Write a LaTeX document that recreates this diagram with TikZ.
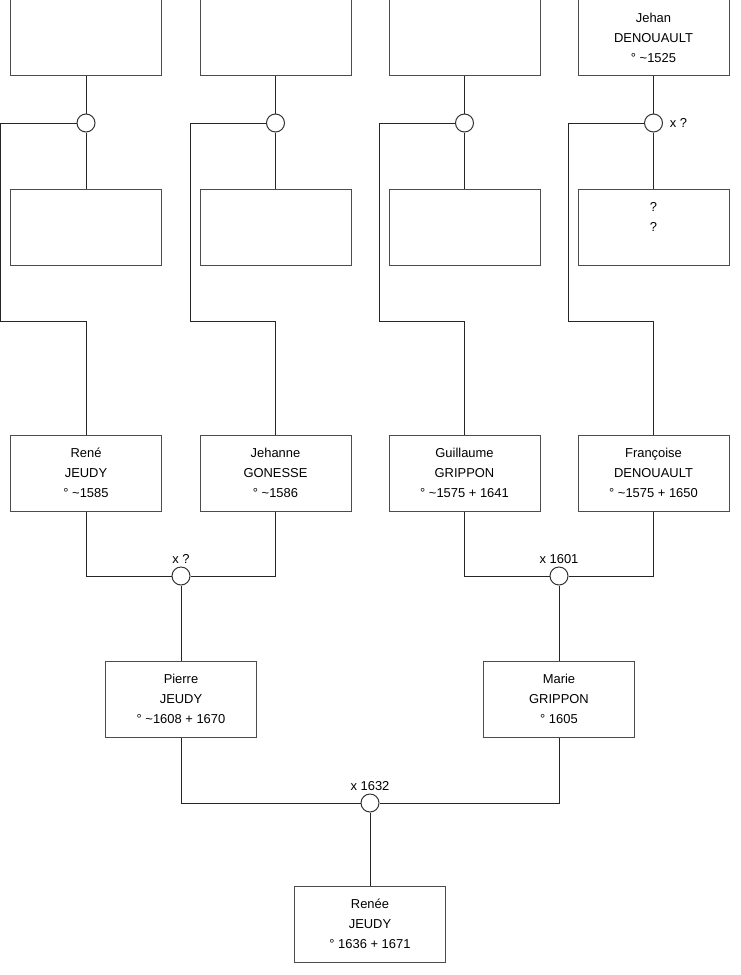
\documentclass[tikz,border=0pt]{standalone}
\usepackage{fontspec}
\setmainfont{Liberation Sans}
\usetikzlibrary{positioning}
\tikzset{
  person/.style={draw=black!70,line width=0.75pt,minimum width=113.25pt,minimum height=57pt,
        align=center,anchor=center,font=\fontsize{9.7}{15}\selectfont},
  union/.style={draw=black!80,fill=white,circle,line width=0.75pt,minimum size=13.5pt,inner sep=0pt},
  link/.style={line width=0.75pt,black!85},
  lbl/.style={font=\fontsize{9.7}{11}\selectfont,inner sep=1pt}
}
\begin{document}
\begin{tikzpicture}[x=0.75pt,y=-0.75pt]
  \useasboundingbox (0,0) rectangle (740,975);
  %% Grand-parents (top row)
  \node[person] (gp1) at (86,37.5) {};
  \node[person] (gp2) at (275.5,37.5) {};
  \node[person] (gp3) at (464.5,37.5) {};
  \node[person] (gp4) at (653.5,37.5) {Jehan\\DENOUAULT\\° \textasciitilde 1525};
  %% Grand-parents (second row)
  \node[person] (gm1) at (86,227) {};
  \node[person] (gm2) at (275.5,227) {};
  \node[person] (gm3) at (464.5,227) {};
  \node[person] (gm4) at (653.5,227) {?\\?\\\mbox{}};
  %% Unions
  \node[union] (u1) at (86,123) {};
  \node[union] (u2) at (275.5,123) {};
  \node[union] (u3) at (464.5,123) {};
  \node[union] (u4) at (653.5,123) {};
  \node[lbl,right=4pt of u4] {x ?};
  %% Parents
  \node[person] (rene) at (86,473) {René\\JEUDY\\° \textasciitilde 1585};
  \node[person] (jehanne) at (275.5,473) {Jehanne\\GONESSE\\° \textasciitilde 1586};
  \node[person] (guillaume) at (464.5,473) {Guillaume\\GRIPPON\\° \textasciitilde 1575 + 1641};
  \node[person] (francoise) at (653.5,473) {Françoise\\DENOUAULT\\° \textasciitilde 1575 + 1650};
  \node[union] (m1) at (181,576) {};
  \node[union] (m2) at (559,576) {};
  \node[lbl,above=1pt of m1] {x ?};
  \node[lbl,above=1pt of m2] {x 1601};
  %% Children
  \node[person] (pierre) at (181,699) {Pierre\\JEUDY\\° \textasciitilde 1608 + 1670};
  \node[person] (marie) at (559,699) {Marie\\GRIPPON\\° 1605};
  \node[union] (m3) at (370,803) {};
  \node[lbl,above=1pt of m3] {x 1632};
  \node[person] (renee) at (370,924) {Renée\\JEUDY\\° 1636 + 1671};
  %% Connectors
  \foreach \i in {1,...,4}{
    \draw[link] (gp\i) -- (u\i);
    \draw[link] (u\i) -- (gm\i);
  }
  \draw[link] (u1.west) -| ++(-76,198) -| (rene.north);
  \draw[link] (u2.west) -| ++(-76,198) -| (jehanne.north);
  \draw[link] (u3.west) -| ++(-76,198) -| (guillaume.north);
  \draw[link] (u4.west) -| ++(-76,198) -| (francoise.north);
  \draw[link] (rene.south) |- (m1.west);
  \draw[link] (jehanne.south) |- (m1.east);
  \draw[link] (guillaume.south) |- (m2.west);
  \draw[link] (francoise.south) |- (m2.east);
  \draw[link] (m1) -- (pierre);
  \draw[link] (m2) -- (marie);
  \draw[link] (pierre.south) |- (m3.west);
  \draw[link] (marie.south) |- (m3.east);
  \draw[link] (m3) -- (renee);
\end{tikzpicture}
\end{document}
